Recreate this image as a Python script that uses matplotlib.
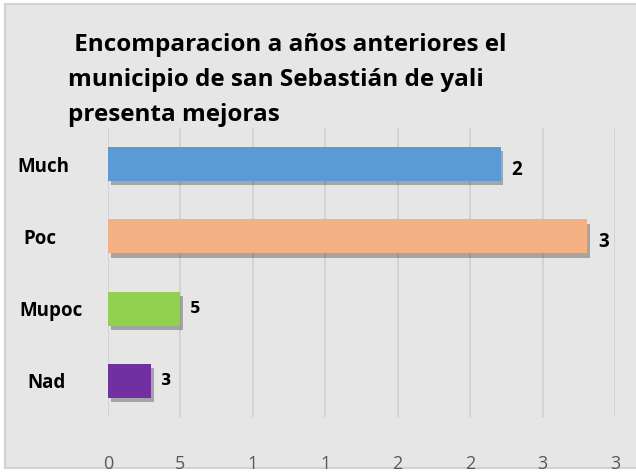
import matplotlib
matplotlib.use("Agg")
import matplotlib.pyplot as plt
import matplotlib.patches as mpatches
import matplotlib.patheffects as pe
import matplotlib.transforms as mtransforms

categories = ["Much", "Poc", "Mupoc", "Nad"]
values = [2.71, 3.31, 0.50, 0.30]
value_labels = ["2", "3", "5", "3"]
colors = ["#5B9BD5", "#F4B183", "#92D050", "#7030A0"]
xticks = [0, 0.5, 1, 1.5, 2, 2.5, 3, 3.5]
xtick_labels = ["0", "5", "1", "1", "2", "2", "3", "3"]
title = " Encomparacion a años anteriores el\nmunicipio de san Sebastián de yali\npresenta mejoras"

fig = plt.figure(figsize=(6.36, 4.73), dpi=100)
fig.patch.set_facecolor("white")
bg = mpatches.Rectangle((5 / 636, 1 - 468 / 473), 640 / 636, 464 / 473,
                        transform=fig.transFigure, facecolor="#e6e6e6",
                        edgecolor="#d2d2d2", linewidth=1.5, zorder=-5)
fig.patches.append(bg)

ax = fig.add_axes([108 / 636, 1 - 417 / 473, 507 / 636, 289 / 473])
ax.set_facecolor("none")

ypos = list(range(len(categories)))
bars = ax.barh(ypos, values, height=0.47, color=colors, zorder=3)
for b in bars:
    b.set_path_effects([pe.SimplePatchShadow(offset=(2, -3), shadow_rgbFace="#444444", alpha=0.4),
                        pe.Normal()])

ax.set_ylim(3.5, -0.5)
ax.set_xlim(0, 3.5)
ax.set_xticks(xticks)
ax.set_xticklabels(xtick_labels, fontsize=13, color="#595959", family="Open Sans")
ax.tick_params(axis="x", length=0, pad=27)
ax.xaxis.grid(True, color="#d0d0d0", linewidth=1.2, zorder=0)
ax.set_axisbelow(True)

ax.set_yticks(ypos)
ax.set_yticklabels(categories, fontsize=13.5, fontweight="bold", color="black", family="Open Sans", ha="left")
ax.tick_params(axis="y", length=0, pad=65)
label_shift_px = [0, 6, 2, 10]
for lbl, dx in zip(ax.get_yticklabels(), label_shift_px):
    lbl.set_transform(lbl.get_transform() + mtransforms.ScaledTranslation(dx / 100, 0, fig.dpi_scale_trans))

for s in ax.spines.values():
    s.set_visible(False)

for i, (v, lab) in enumerate(zip(values, value_labels)):
    if v > 1:
        ax.annotate(lab, (v, i), xytext=(8, -4), textcoords="offset points",
                    ha="left", va="center", fontsize=13.5, fontweight="bold", family="Open Sans")
    else:
        ax.annotate(lab, (v, i), xytext=(7, 0), textcoords="offset points",
                    ha="left", va="center", fontsize=11, fontweight="bold", family="DejaVu Sans")

fig.text(68 / 636, 1 - 33 / 473, title, fontsize=17.5, fontweight="bold", family="Open Sans",
         ha="left", va="top", linespacing=1.62)

fig.savefig("out.png", dpi=100)
